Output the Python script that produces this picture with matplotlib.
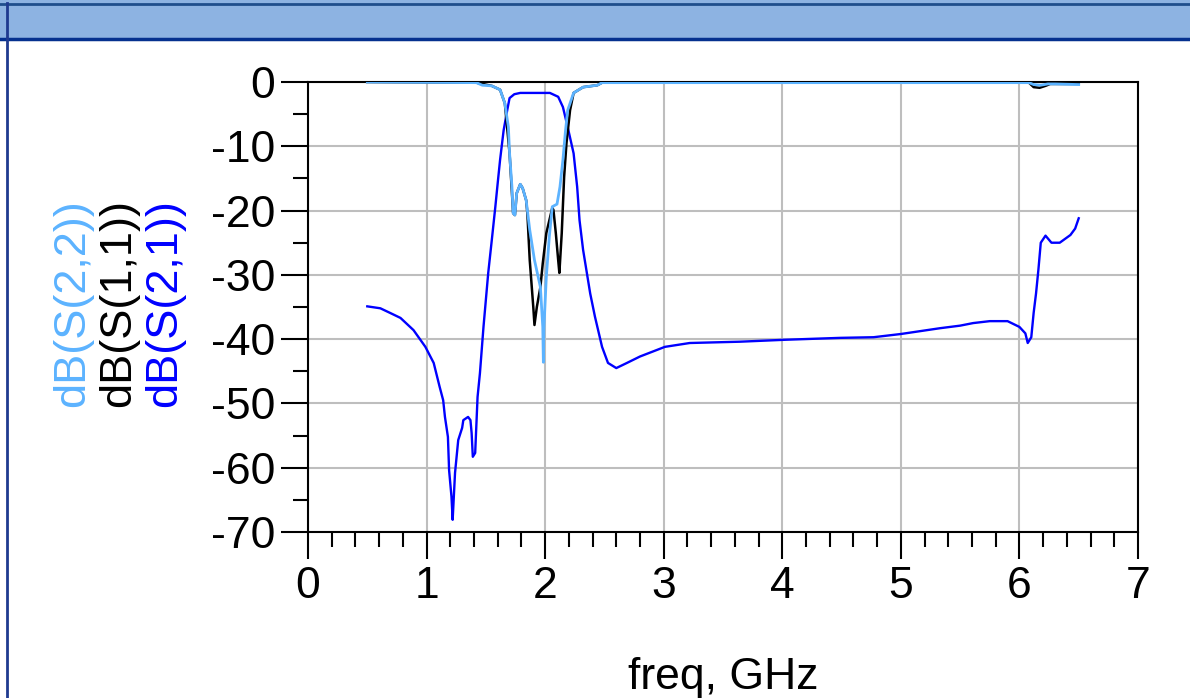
import matplotlib
matplotlib.use("Agg")
from matplotlib import pyplot as plt
from matplotlib.patches import Rectangle
from matplotlib.lines import Line2D
from matplotlib.ticker import MultipleLocator

plt.rcParams['font.family'] = ['Liberation Sans', 'DejaVu Sans']
plt.rcParams['axes.unicode_minus'] = False

# dB(S(2,1)) - blue trace
s21_freq = [0.50, 0.61, 0.69, 0.78, 0.89, 0.99, 1.06, 1.11, 1.14, 1.155, 1.18, 1.19, 1.21, 1.22,
            1.24, 1.267, 1.30, 1.31, 1.35, 1.37, 1.38, 1.39, 1.41, 1.43, 1.45, 1.48, 1.52, 1.55,
            1.58, 1.60, 1.62, 1.65, 1.68, 1.70, 1.74, 1.79, 2.04, 2.11, 2.15, 2.19, 2.24, 2.27,
            2.29, 2.32, 2.38, 2.42, 2.48, 2.53, 2.60, 2.69, 2.80, 3.01, 3.22, 3.64, 4.02, 4.49,
            4.77, 5.00, 5.33, 5.50, 5.61, 5.75, 5.90, 6.00, 6.05, 6.07, 6.10, 6.12, 6.14, 6.16,
            6.18, 6.22, 6.27, 6.34, 6.43, 6.47, 6.50]
s21_db = [-34.9, -35.2, -35.9, -36.7, -38.6, -41.2, -43.7, -47.4, -49.5, -52.1, -55.2, -60.4, -64.5, -68.1,
          -60.8, -55.7, -53.8, -52.6, -52.1, -52.6, -54.6, -58.3, -57.7, -49.0, -45.3, -38.1, -29.7, -24.6,
          -19.4, -15.7, -12.1, -7.5, -4.4, -2.5, -1.9, -1.7, -1.7, -2.3, -3.9, -7.0, -11.1, -16.3,
          -21.5, -26.1, -32.9, -36.5, -41.2, -43.7, -44.5, -43.7, -42.7, -41.2, -40.6, -40.4, -40.1, -39.8,
          -39.7, -39.2, -38.3, -37.9, -37.5, -37.2, -37.2, -38.1, -39.1, -40.6, -39.7, -35.9, -32.9, -29.2,
          -25.0, -23.9, -25.0, -25.0, -23.8, -22.8, -21.2]

# dB(S(1,1)) - black trace
s11_freq = [0.50, 1.42, 1.55, 1.62, 1.66, 1.70, 1.73, 1.745, 1.76, 1.79, 1.81, 1.84, 1.85, 1.87,
            1.90, 1.91, 1.93, 1.96, 1.98, 2.01, 2.06, 2.07, 2.09, 2.11, 2.12, 2.14, 2.16, 2.18,
            2.21, 2.24, 2.32, 2.44, 2.48, 6.08, 6.12, 6.17, 6.22, 6.26, 6.50]
s11_db = [0.0, -0.1, -0.6, -1.2, -3.3, -11.1, -20.4, -20.7, -17.3, -15.9, -16.5, -18.4, -20.4, -27.7,
          -35.0, -37.8, -35.0, -31.9, -28.2, -23.5, -19.6, -19.9, -23.5, -27.7, -29.7, -23.5, -14.8, -9.5,
          -4.4, -1.7, -0.8, -0.5, -0.1, -0.1, -0.8, -0.9, -0.6, -0.3, -0.3]

# dB(S(2,2)) - light blue trace
s22_freq = [0.50, 1.42, 1.47, 1.55, 1.62, 1.66, 1.69, 1.70, 1.72, 1.73, 1.745, 1.76, 1.79, 1.81,
            1.84, 1.87, 1.91, 1.96, 1.98, 1.985, 1.99, 2.01, 2.035, 2.06, 2.10, 2.125, 2.15, 2.17,
            2.19, 2.24, 2.32, 2.44, 2.48, 6.08, 6.12, 6.18, 6.24, 6.30, 6.50]
s22_db = [0.0, -0.1, -0.5, -0.6, -1.2, -3.3, -7.0, -11.1, -16.3, -20.4, -20.7, -17.3, -15.9, -16.5,
          -18.4, -23.0, -27.7, -31.9, -38.1, -43.6, -38.1, -30.3, -24.1, -19.4, -19.0, -16.3, -12.1, -7.9,
          -4.4, -1.7, -0.8, -0.5, -0.1, -0.1, -0.4, -0.5, -0.3, -0.3, -0.4]

W, H = 1190, 698
fig = plt.figure(figsize=(W / 100, H / 100), dpi=100)
ax = fig.add_axes([308 / W, 1 - 532 / H, (1138 - 308) / W, (532 - 82) / H])

# window title bar and frame
fig.add_artist(Rectangle((0, 1 - 40 / H), 1, 40 / H, transform=fig.transFigure,
                         facecolor='#8DB3E2', edgecolor='none', zorder=0))
fig.add_artist(Line2D([0, 1], [1 - 4 / H, 1 - 4 / H], transform=fig.transFigure, color='#1F4E8C', lw=2))
fig.add_artist(Line2D([0, 1], [1 - 38.5 / H, 1 - 38.5 / H], transform=fig.transFigure, color='#05318F', lw=2.5))
fig.add_artist(Line2D([7 / W, 7 / W], [0, 1 - 3 / H], transform=fig.transFigure, color='#1F3A8F', lw=2))

ax.plot(s21_freq, s21_db, color='#0000FF', lw=1.7, zorder=3)
ax.plot(s11_freq, s11_db, color='black', lw=1.8, zorder=4)
ax.plot(s22_freq, s22_db, color='#5CB3FF', lw=2.0, zorder=5)

ax.set_xlim(0, 7)
ax.set_ylim(-70, 0)
ax.xaxis.set_major_locator(MultipleLocator(1))
ax.xaxis.set_minor_locator(MultipleLocator(0.2))
ax.yaxis.set_major_locator(MultipleLocator(10))
ax.yaxis.set_minor_locator(MultipleLocator(5))
ax.tick_params(which='major', direction='out', length=19.5, width=1.5, labelsize=32, pad=4)
ax.tick_params(which='minor', direction='out', length=10.8, width=1.5)
ax.tick_params(axis='x', which='major', pad=5)
ax.grid(True, which='major', color='#BEBEBE', lw=1.5, zorder=1)
ax.set_axisbelow(True)
for s in ax.spines.values():
    s.set_linewidth(1.5)

fig.text(723 / W, 9 / H, 'freq, GHz', fontsize=32, ha='center', va='baseline')
fig.text(73 / W, 1 - 303 / H, 'dB(S(2,2))', fontsize=32.5, rotation=90, ha='center', va='center', color='#5CB3FF')
fig.text(119 / W, 1 - 303 / H, 'dB(S(1,1))', fontsize=32.5, rotation=90, ha='center', va='center', color='black')
fig.text(165 / W, 1 - 303 / H, 'dB(S(2,1))', fontsize=32.5, rotation=90, ha='center', va='center', color='#0000FF')

fig.savefig('out.png', dpi=100)
